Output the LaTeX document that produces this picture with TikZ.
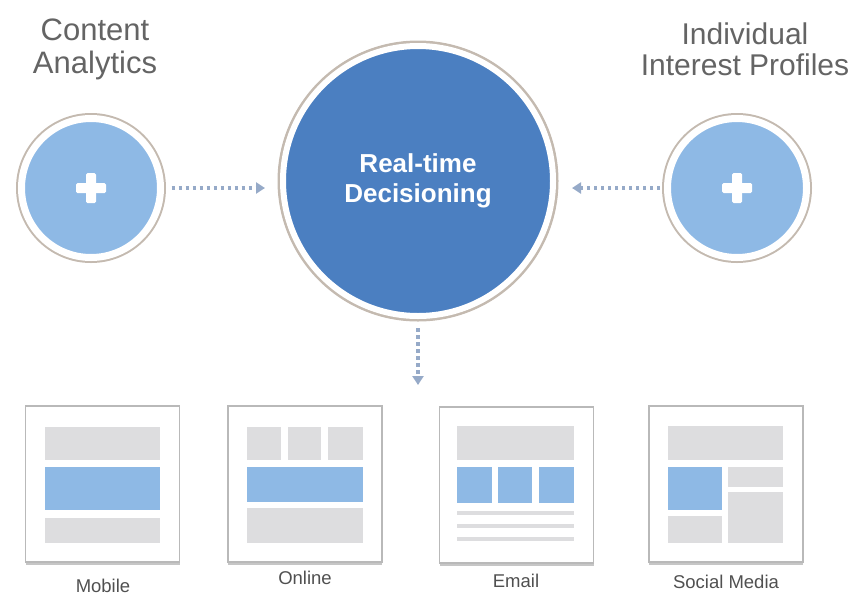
\documentclass[tikz,border=0pt]{standalone}
\usepackage{fontspec}
\setmainfont{Liberation Sans}
\usetikzlibrary{positioning,arrows.meta,shadows}

\definecolor{lblue}{RGB}{142,185,229}
\definecolor{dblue}{RGB}{75,127,193}
\definecolor{ring}{RGB}{196,186,176}
\definecolor{arrc}{RGB}{150,170,200}
\definecolor{blk}{RGB}{221,221,223}
\definecolor{txt}{RGB}{100,100,100}

\begin{document}
\begin{tikzpicture}[x=1pt, y=-1pt,
    c/.style={circle, fill=lblue, draw=white, line width=7pt, preaction={draw=ring, line width=11pt}, inner sep=0pt, outer sep=0pt, minimum size=139pt},
    d/.style={fill=dblue, line width=6pt, preaction={draw=ring, line width=10pt}, minimum size=270pt, text=white, align=center, font=\fontsize{26}{30}\selectfont\bfseries},
    p/.style={path picture={
        \fill[white, rounded corners=1.5pt] ([xshift=-15pt, yshift=-5pt]path picture bounding box.center) rectangle ++(30pt,10pt);
        \fill[white, rounded corners=1.5pt] ([xshift=-5pt, yshift=-15pt]path picture bounding box.center) rectangle ++(10pt,30pt);}},
    a/.style={draw=arrc, line width=3.5pt, dash pattern=on 3.5pt off 3.5pt, -{Triangle[length=9pt, width=11pt]}},
    b/.style={rectangle, fill=white, draw=gray!55, line width=1.2pt, minimum width=154pt, minimum height=156pt, drop shadow={shadow xshift=0pt, shadow yshift=-2.5pt, opacity=0.45}},
    g/.style={fill=blk},
    h/.style={fill=lblue},
    t/.style={text=txt, align=center},
    l/.style={text=txt!80!black, font=\fontsize{18.5}{20}\selectfont, anchor=base}]
    \useasboundingbox (0,0) rectangle (857,595);

    % circles
    \node[c, p] (cont) at (91,188) {};
    \node[c, d] (dec) at (418,181) {Real-time\\Decisioning};
    \node[c, p] (prof) at (737,188) {};
    \node[t, font=\fontsize{31}{33}\selectfont] (cont_label) at (95,49) {Content\\Analytics};
    \node[t, font=\fontsize{30}{31}\selectfont] (prof_label) at (745,49) {Individual\\Interest Profiles};

    \draw[a, shorten <=11pt, shorten >=18pt] (cont.east) -- (cont.east -| dec.west);
    \draw[a, shorten <=7.5pt, shorten >=19pt] (prof.west) -- (prof.west -| dec.east);
    \coordinate (out) at (418,385);
    \draw[a, shorten <=12pt] (dec.south) -- (out);

    % channels
    \node[b] (mob) at (102.5,484) {};
    \node[b] (onl) at (305,484) {};
    \node[b] (mail) at (516.5,485) {};
    \node[b] (soc) at (726,484) {};

    \fill[g] (45,427) rectangle (160,460);
    \fill[h] (45,467) rectangle (160,510);
    \fill[g] (45,518) rectangle (160,543);

    \fill[g] (247,427) rectangle (281,460);
    \fill[g] (288,427) rectangle (321,460);
    \fill[g] (328,427) rectangle (363,460);
    \fill[h] (247,467) rectangle (363,502);
    \fill[g] (247,508) rectangle (363,543);

    \fill[g] (457,426) rectangle (574,460);
    \fill[h] (457,467) rectangle (492,503);
    \fill[h] (498,467) rectangle (532,503);
    \fill[h] (539,467) rectangle (574,503);
    \fill[g] (457,511) rectangle (574,515);
    \fill[g] (457,524) rectangle (574,528);
    \fill[g] (457,537) rectangle (574,541);

    \fill[g] (668,426) rectangle (783,460);
    \fill[h] (668,467) rectangle (722,510);
    \fill[g] (728,467) rectangle (783,487);
    \fill[g] (728,492) rectangle (783,543);
    \fill[g] (668,516) rectangle (722,543);

    \node[l] (mob_label) at (103,592) {Mobile};
    \node[l] (onl_label) at (305,584) {Online};
    \node[l] (mail_label) at (516,587) {Email};
    \node[l] (soc_label) at (726,588) {Social Media};
\end{tikzpicture}
\end{document}
